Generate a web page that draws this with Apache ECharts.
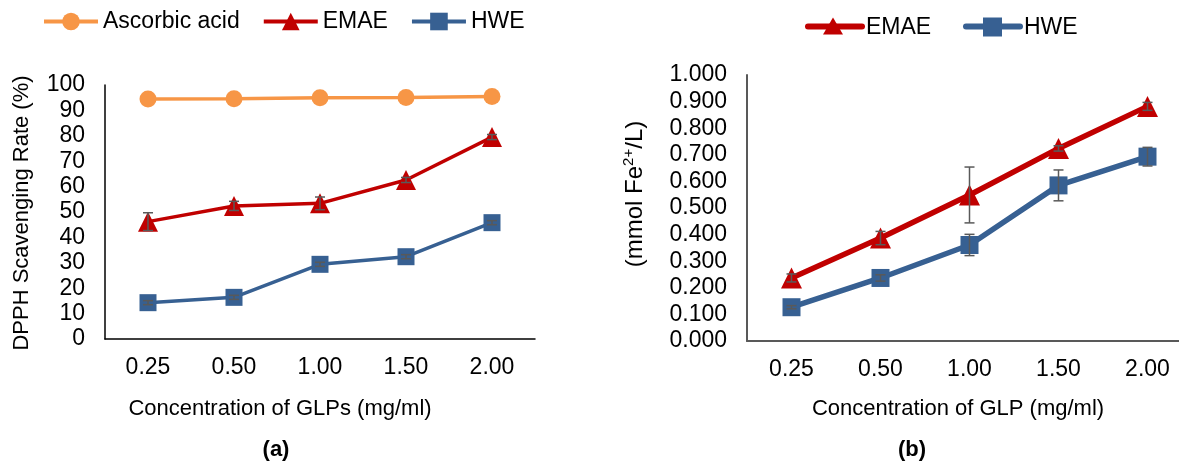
<!DOCTYPE html>
<html>
<head>
<meta charset="utf-8">
<script src="https://cdn.jsdelivr.net/npm/echarts@6/dist/echarts.min.js"></script>
<style>
  html, body { margin: 0; padding: 0; background: #fff; }
  #chart { width: 1179px; height: 463px; }
</style>
</head>
<body>
<div id="chart"></div>
<script>
const categories = ['0.25', '0.50', '1.00', '1.50', '2.00'];

// (a) DPPH scavenging rate (%)
const dpphAscorbic = [94.5, 94.6, 95.0, 95.1, 95.5];
const dpphEmae = [46.2, 52.4, 53.4, 62.6, 79.5];
const dpphEmaeErr = [3.5, 1.8, 2.5, 1.0, 1.0];
const dpphHwe = [14.3, 16.4, 29.4, 32.4, 45.8];
const dpphHweErr = [0.8, 0.8, 0.8, 0.8, 0.8];

// (b) FRAP (mmol Fe2+/L)
const frapEmae = [0.237, 0.387, 0.549, 0.724, 0.882];
const frapEmaeErr = [0.015, 0.025, 0.105, 0.01, 0.015];
const frapHwe = [0.127, 0.237, 0.361, 0.585, 0.693];
const frapHweErr = [0.006, 0.012, 0.04, 0.058, 0.035];

const orange = '#F79646';
const red = '#C00000';
const blue = '#376092';
const font = 'Liberation Sans, Arial, sans-serif';

const chart = echarts.init(document.getElementById('chart'));

function errorSeries(vals, errs, axisIdx) {
  return {
    type: 'custom',
    xAxisIndex: axisIdx,
    yAxisIndex: axisIdx,
    z: 5,
    silent: true,
    data: vals.map((v, i) => [i, v - errs[i], v + errs[i]]),
    renderItem: function (params, api) {
      const lo = api.coord([api.value(0), api.value(1)]);
      const hi = api.coord([api.value(0), api.value(2)]);
      const w = 5;
      const style = { stroke: '#595959', lineWidth: 1.5 };
      return {
        type: 'group',
        children: [
          { type: 'line', shape: { x1: lo[0], y1: lo[1], x2: hi[0], y2: hi[1] }, style: style },
          { type: 'line', shape: { x1: hi[0] - w, y1: hi[1], x2: hi[0] + w, y2: hi[1] }, style: style },
          { type: 'line', shape: { x1: lo[0] - w, y1: lo[1], x2: lo[0] + w, y2: lo[1] }, style: style }
        ]
      };
    }
  };
}

function lineSeries(name, vals, color, symbol, size, width, axisIdx) {
  return {
    name: name,
    type: 'line',
    xAxisIndex: axisIdx,
    yAxisIndex: axisIdx,
    data: vals,
    symbol: symbol,
    symbolSize: size,
    z: 3,
    lineStyle: { color: color, width: width },
    itemStyle: { color: color, borderWidth: 0 }
  };
}

const axisText = { color: '#000', fontSize: 23, fontFamily: font };

const option = {
  animation: false,
  backgroundColor: '#fff',
  textStyle: { fontFamily: font },
  legend: [
    {
      data: ['Ascorbic acid', 'EMAE', 'HWE'],
      left: 37,
      top: 5,
      itemWidth: 54,
      itemHeight: 22,
      itemGap: 22,
      lineStyle: { width: 4 },
      textStyle: axisText
    }
  ],
  grid: [
    { left: 105, right: 644, top: 85, bottom: 124, outerBoundsMode: 'none' },
    { left: 747, width: 445, top: 75, bottom: 122, outerBoundsMode: 'none' }
  ],
  xAxis: [0, 1].map(i => ({
    type: 'category',
    gridIndex: i,
    data: categories,
    boundaryGap: true,
    axisLine: { lineStyle: { color: i === 0 ? '#000' : '#595959', width: i === 0 ? 1.5 : 2 } },
    axisTick: { show: false },
    axisLabel: Object.assign({ margin: 17 }, axisText)
  })),
  yAxis: [
    {
      type: 'value', gridIndex: 0, min: 0, max: 100, interval: 10,
      axisLine: { show: true, lineStyle: { color: '#000', width: 1.5 } },
      axisTick: { show: false },
      splitLine: { show: false },
      axisLabel: Object.assign({ margin: 20 }, axisText)
    },
    {
      type: 'value', gridIndex: 1, min: 0, max: 1, interval: 0.1,
      axisLine: { show: true, lineStyle: { color: '#595959', width: 2 } },
      axisTick: { show: false },
      splitLine: { show: false },
      axisLabel: Object.assign({ margin: 20, formatter: v => v.toFixed(3) }, axisText)
    }
  ],
  graphic: [
    { type: 'text', x: 22, y: 213, rotation: Math.PI / 2,
      style: { text: 'DPPH Scavenging Rate (%)', fill: '#000', font: '22px ' + font, align: 'center', verticalAlign: 'middle' } },
    { type: 'text', x: 635, y: 194, rotation: Math.PI / 2,
      style: {
        text: '{a|(mmol Fe}{s|2+}{a|/L)}', fill: '#000', align: 'center', verticalAlign: 'middle',
        rich: {
          a: { fontSize: 24, fontFamily: font, fill: '#000', lineHeight: 28 },
          s: { fontSize: 15, fontFamily: font, fill: '#000', lineHeight: 15, verticalAlign: 'top' }
        }
      } },
    { type: 'text', x: 280, y: 409,
      style: { text: 'Concentration of GLPs (mg/ml)', fill: '#000', font: '22px ' + font, align: 'center', verticalAlign: 'middle' } },
    { type: 'text', x: 958, y: 409,
      style: { text: 'Concentration of GLP (mg/ml)', fill: '#000', font: '22px ' + font, align: 'center', verticalAlign: 'middle' } },
    { type: 'text', x: 276, y: 450,
      style: { text: '(a)', fill: '#000', font: 'bold 22px ' + font, align: 'center', verticalAlign: 'middle' } },
    { type: 'text', x: 912, y: 450,
      style: { text: '(b)', fill: '#000', font: 'bold 22px ' + font, align: 'center', verticalAlign: 'middle' } },
    // right panel legend
    { type: 'group', left: 805, top: 16, children: [
      { type: 'line', shape: { x1: 2, y1: 13, x2: 56, y2: 13 }, style: { stroke: red, lineWidth: 6, lineCap: 'round' } },
      { type: 'polygon', shape: { points: [[27, 4], [37, 21], [17, 21]] }, style: { fill: red } },
      { type: 'text', x: 60, y: 14, style: { text: 'EMAE', fill: '#000', font: '23px ' + font, verticalAlign: 'middle' } },
      { type: 'line', shape: { x1: 160, y1: 13, x2: 214, y2: 13 }, style: { stroke: blue, lineWidth: 6, lineCap: 'round' } },
      { type: 'rect', shape: { x: 177, y: 4, width: 19, height: 19 }, style: { fill: blue } },
      { type: 'text', x: 218, y: 14, style: { text: 'HWE', fill: '#000', font: '23px ' + font, verticalAlign: 'middle' } }
    ] }
  ],
  series: [
    lineSeries('Ascorbic acid', dpphAscorbic, orange, 'circle', 17, 3.5, 0),
    errorSeries(dpphEmae, dpphEmaeErr, 0),
    errorSeries(dpphHwe, dpphHweErr, 0),
    lineSeries('EMAE', dpphEmae, red, 'triangle', 20, 3.5, 0),
    lineSeries('HWE', dpphHwe, blue, 'rect', 17, 3.5, 0),
    errorSeries(frapEmae, frapEmaeErr, 1),
    errorSeries(frapHwe, frapHweErr, 1),
    lineSeries('EMAE', frapEmae, red, 'triangle', 21, 5.5, 1),
    lineSeries('HWE', frapHwe, blue, 'rect', 18, 5.5, 1)
  ]
};

chart.setOption(option);
</script>
</body>
</html>
